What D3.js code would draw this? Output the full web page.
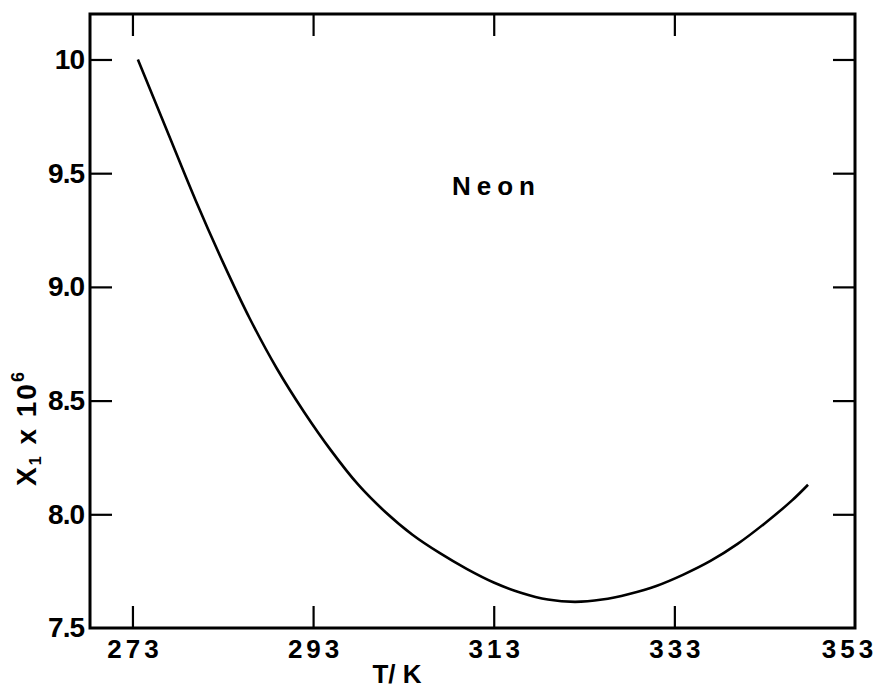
<!DOCTYPE html>
<html>
<head>
<meta charset="utf-8">
<script src="https://cdn.jsdelivr.net/npm/d3@7"></script>
<style>
  body { margin: 0; background: #fff; }
  svg { display: block; }
  text { font-family: "Liberation Sans", Arial, sans-serif; font-weight: bold; fill: #000; }
</style>
</head>
<body>
<svg id="chart" width="876" height="689"></svg>
<script>
// values
var temperatures = [273.6, 277, 280, 283, 286, 289, 292, 295, 298, 301, 304, 307, 310,
                    313, 316, 319, 322, 325, 328, 331, 334, 337, 340, 343, 346, 347.8];
var moleFraction = [10.00, 9.67, 9.38, 9.11, 8.86, 8.64, 8.45, 8.28, 8.13, 8.01, 7.91, 7.83, 7.76,
                    7.70, 7.655, 7.625, 7.615, 7.625, 7.65, 7.685, 7.735, 7.795, 7.87, 7.96, 8.06, 8.13];
var xTicks = [273, 293, 313, 333, 353];
var yTicks = [7.5, 8.0, 8.5, 9.0, 9.5, 10];
var seriesLabel = "Neon";

var W = 876, H = 689;
var margin = {top: 14, right: 21, bottom: 61, left: 90};

var svg = d3.select("#chart");

var x = d3.scaleLinear().domain([268.3, 353]).range([margin.left, W - margin.right]);
var y = d3.scaleLinear().domain([7.5, 10.2]).range([H - margin.bottom, margin.top]);

var TICK = 22;

// bottom axis: labels plus inward ticks (skip the edge one)
var axBottom = svg.append("g")
    .attr("transform", "translate(0," + (H - margin.bottom) + ")")
    .call(d3.axisBottom(x).tickValues(xTicks).tickSizeInner(-TICK).tickSizeOuter(0).tickPadding(8)
        .tickFormat(d3.format("d")));
axBottom.select(".domain").remove();
axBottom.selectAll(".tick line").attr("stroke-width", 2.2)
    .filter(function(d) { return d === 353; }).remove();
axBottom.selectAll(".tick text").attr("font-size", 26).attr("letter-spacing", "4px")
    .attr("dy", "0.85em")
    .attr("dx", function(d) { return d === 353 ? "-6px" : "2px"; });

// top axis: ticks only
var axTop = svg.append("g")
    .attr("transform", "translate(0," + margin.top + ")")
    .call(d3.axisTop(x).tickValues(xTicks.filter(function(d) { return d < 353; }))
        .tickSizeInner(-TICK).tickSizeOuter(0).tickFormat(""));
axTop.select(".domain").remove();
axTop.selectAll(".tick line").attr("stroke-width", 2.2);

// left axis
var axLeft = svg.append("g")
    .attr("transform", "translate(" + margin.left + ",0)")
    .call(d3.axisLeft(y).tickValues(yTicks).tickSizeInner(-TICK).tickSizeOuter(0).tickPadding(6)
        .tickFormat(function(d) { return d === 10 ? "10" : d3.format(".1f")(d); }));
axLeft.select(".domain").remove();
axLeft.selectAll(".tick line").attr("stroke-width", 2.2)
    .filter(function(d) { return d === 7.5; }).remove();
axLeft.selectAll(".tick text").attr("font-size", 28).attr("letter-spacing", "-1px");

// right axis: ticks only
var axRight = svg.append("g")
    .attr("transform", "translate(" + (W - margin.right) + ",0)")
    .call(d3.axisRight(y).tickValues(yTicks.filter(function(d) { return d > 7.5; }))
        .tickSizeInner(-TICK).tickSizeOuter(0).tickFormat(""));
axRight.select(".domain").remove();
axRight.selectAll(".tick line").attr("stroke-width", 2.2);

// frame
svg.append("rect")
    .attr("x", margin.left).attr("y", margin.top)
    .attr("width", W - margin.left - margin.right)
    .attr("height", H - margin.top - margin.bottom)
    .attr("fill", "none").attr("stroke", "#000").attr("stroke-width", 3);

// curve
var line = d3.line()
    .x(function(d, i) { return x(temperatures[i]); })
    .y(function(d) { return y(d); })
    .curve(d3.curveCatmullRom);

svg.append("path")
    .datum(moleFraction)
    .attr("d", line)
    .attr("fill", "none")
    .attr("stroke", "#000")
    .attr("stroke-width", 2.6);

// series label
svg.append("text")
    .attr("x", 452).attr("y", 195)
    .attr("font-size", 26).attr("letter-spacing", "6px")
    .text(seriesLabel);

// axis titles
svg.append("text")
    .attr("x", 397).attr("y", 683)
    .attr("text-anchor", "middle")
    .attr("font-size", 26)
    .text("T/ K");

var yTitle = svg.append("text")
    .attr("transform", "translate(36,428) rotate(-90)")
    .attr("text-anchor", "middle")
    .attr("font-size", 28)
    .attr("letter-spacing", "2px");
yTitle.append("tspan").text("X");
yTitle.append("tspan").attr("font-size", 16).attr("dy", 5).text("1");
yTitle.append("tspan").attr("dy", -5).text(" x 10");
yTitle.append("tspan").attr("font-size", 18).attr("dy", -12).text("6");
</script>
</body>
</html>
